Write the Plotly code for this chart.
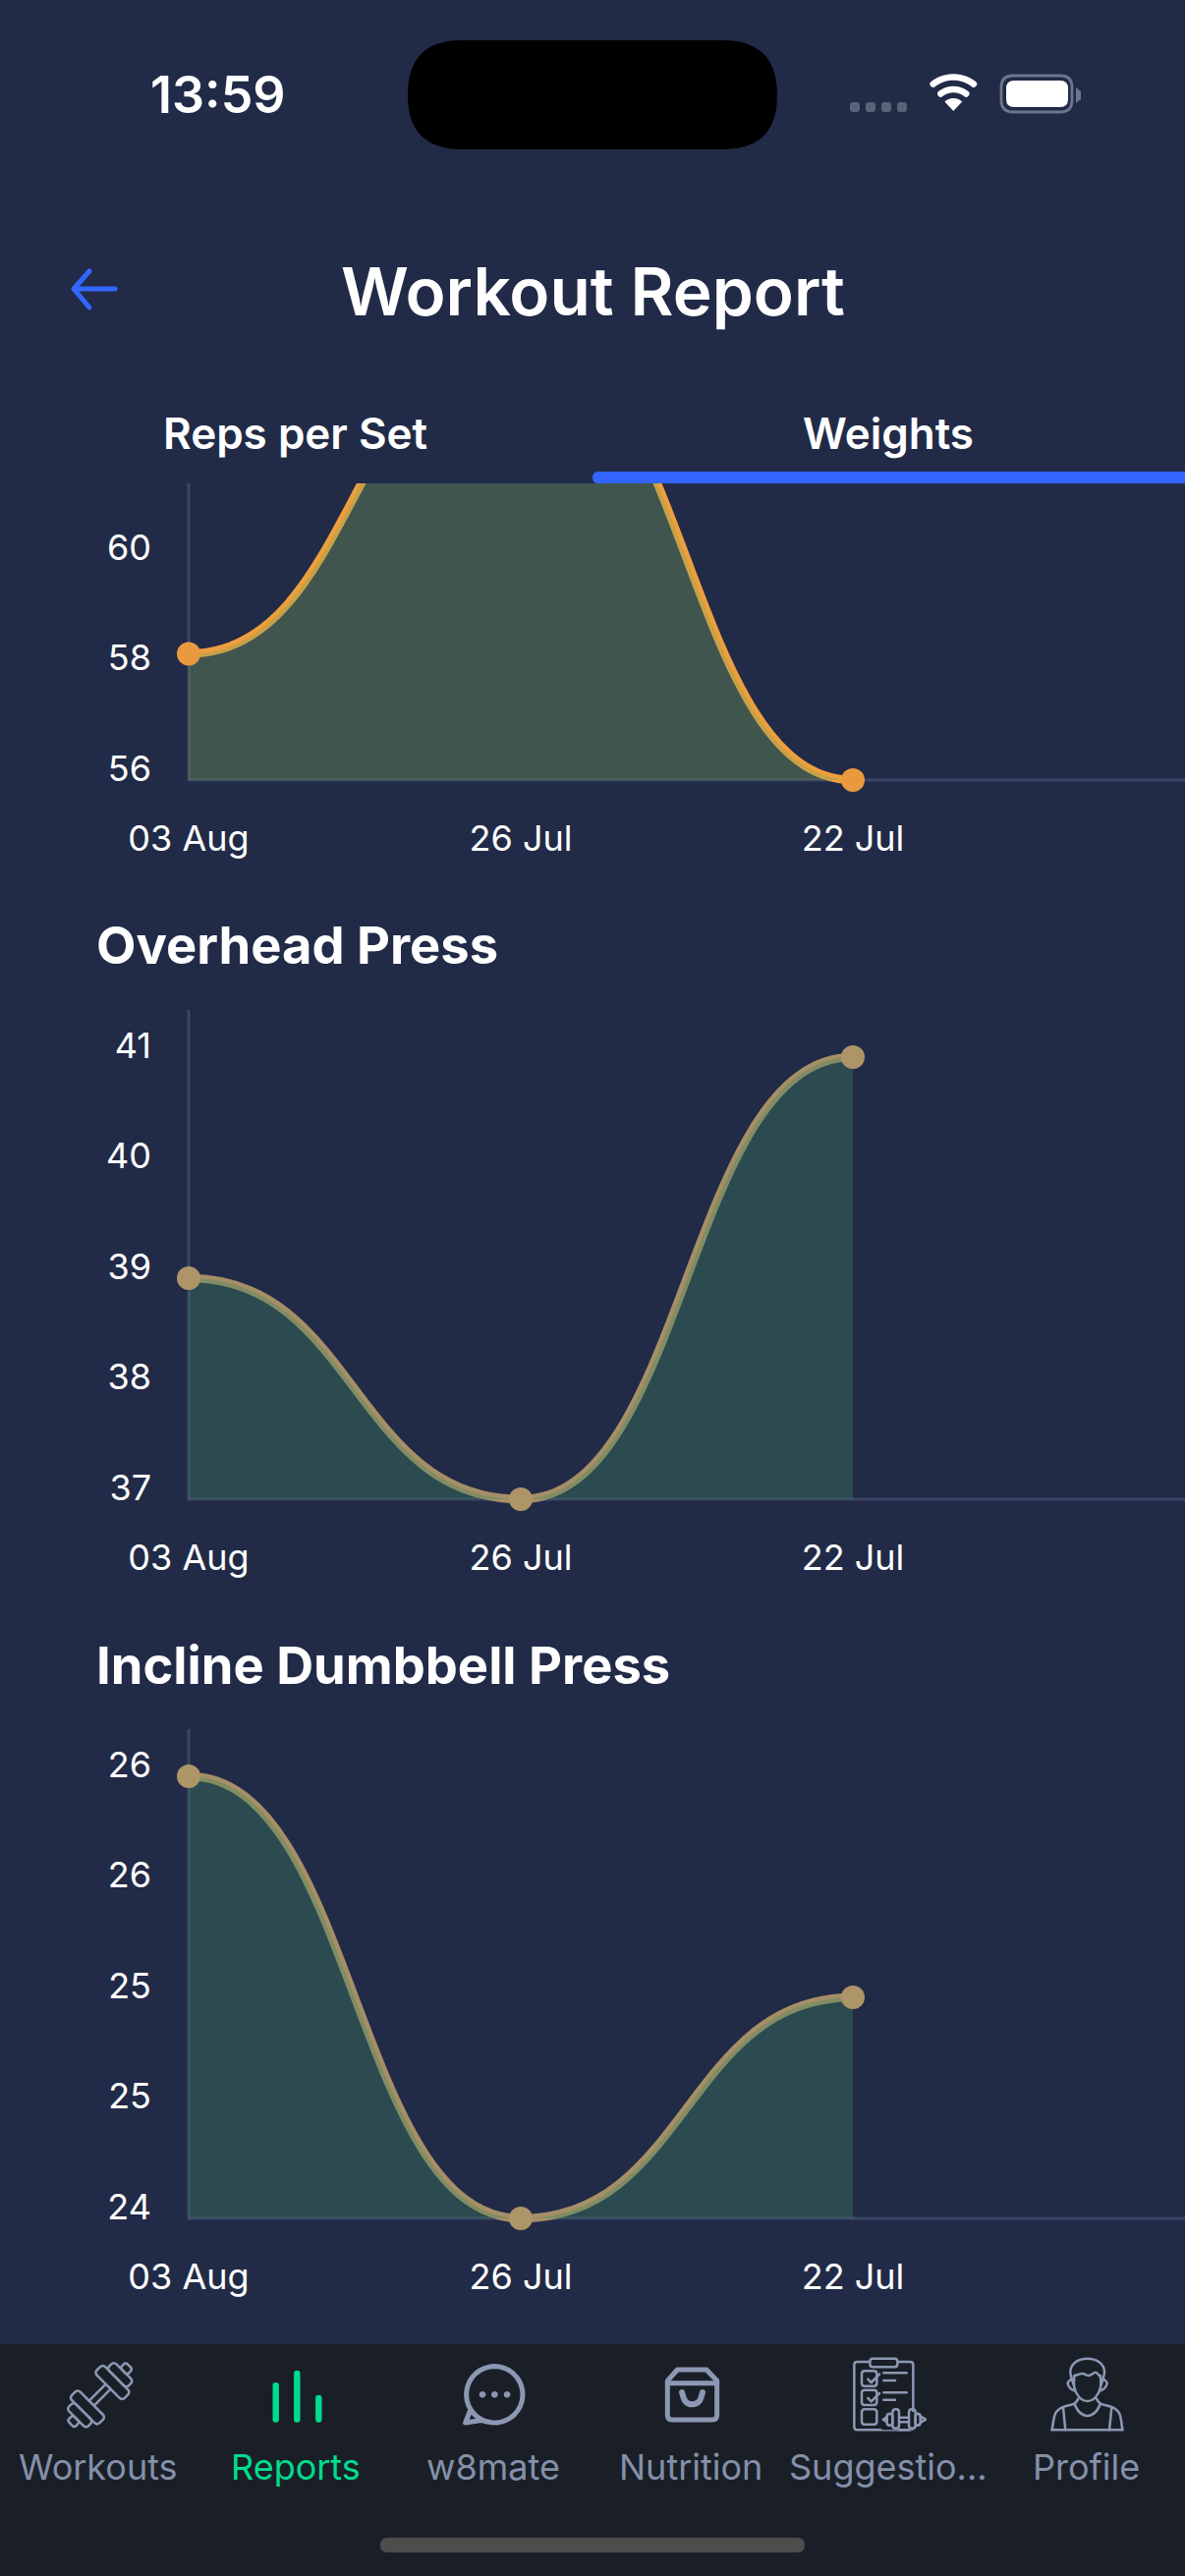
import numpy as np
import plotly.graph_objects as go

# values
dates = ["03 Aug", "26 Jul", "22 Jul"]
bench_weights = [58, 63, 56]
overhead_weights = [39, 37, 41]
incline_weights = [26, 24, 25]
bench_ticks = [56, 57.75, 59.5, 61.25, 63]
overhead_ticks = [37, 38, 39, 40, 41]
incline_ticks = [24, 24.5, 25, 25.5, 26]
bench_tick_labels = ["56", "58", "60", "61", "63"]
overhead_tick_labels = ["37", "38", "39", "40", "41"]
incline_tick_labels = ["24", "25", "25", "26", "26"]
chart_titles = ["Overhead Press", "Incline Dumbbell Press"]
tab_labels = ["Reps per Set", "Weights"]
nav_labels = ["Workouts", "Reports", "w8mate", "Nutrition", "Suggestio...", "Profile"]

W, H = 1206, 2622
BG = "#212B47"
NAV_BG = "#1A1F27"
BLUE = "#3366FF"
GREEN = "#00DC8F"
ICON = "#8C98B3"
NAV_TEXT = "#8490AA"
AXIS = "#3B4664"
FONT = "Inter"

AXIS_X = 192      # px of first category
STEP = 338        # px between categories
SPAN = 450        # px between lowest and highest tick
PLOT_H = 498      # px from baseline to top of the y axis line
PAD = 12          # extra room so the curve is not clipped at the baseline

shapes = []
annotations = []
fig = go.Figure()


def curve_path(xs, ys):
    d = f"M{xs[0]},{ys[0]}"
    for i in range(1, len(xs)):
        mid = (xs[i - 1] + xs[i]) / 2
        d += f" C{mid},{ys[i - 1]} {mid},{ys[i]} {xs[i]},{ys[i]}"
    return d


def add_chart(n, baseline, values, ticks, tick_labels, line_color, fill, dot):
    xa, ya = ("x", "y") if n == 1 else (f"x{n}", f"y{n}")
    lo = min(ticks)
    per_px = (max(ticks) - lo) / SPAN
    xs = list(range(len(values)))
    ymin = lo - PAD * per_px
    ymax = lo + PLOT_H * per_px

    axis_line = dict(color=AXIS, width=3)
    shapes.append(dict(type="line", xref=xa, yref=ya, x0=0, x1=0, y0=lo, y1=ymax, line=axis_line, layer="below"))
    shapes.append(dict(type="line", xref=xa, yref=ya, x0=0, x1=3, y0=lo, y1=lo, line=axis_line, layer="below"))
    shapes.append(dict(type="path", xref=xa, yref=ya, layer="below",
                       line=dict(color=line_color, width=8.5), path=curve_path(xs, values)))
    # translucent area goes over the stroke, that tints its lower half like in the app
    shapes.append(dict(type="path", xref=xa, yref=ya, layer="below", fillcolor=fill, line=dict(width=0),
                       path=curve_path(xs, values) + f" L{xs[-1]},{lo} L{xs[0]},{lo} Z"))

    fig.add_trace(go.Scatter(x=xs, y=values, mode="markers", xaxis=xa, yaxis=ya, cliponaxis=False,
                             marker=dict(size=24, color=dot), showlegend=False, hoverinfo="skip"))

    tick_font = dict(family=FONT, size=36, color="#FFFFFF")
    left = (AXIS_X - PAD) / W
    fig.layout[xa.replace("x", "xaxis")] = dict(
        domain=[left, 1], range=[-PAD / STEP, 3], tickmode="array", tickvals=xs, ticktext=dates,
        tickfont=tick_font, showgrid=False, zeroline=False, showline=False, ticks="",
        ticklabelstandoff=23, anchor=ya, tickangle=0, automargin=False,
    )
    fig.layout[ya.replace("y", "yaxis")] = dict(
        domain=[1 - (baseline + PAD) / H, 1 - (baseline - PLOT_H) / H], range=[ymin, ymax],
        tickmode="array", tickvals=ticks, ticktext=tick_labels, tickfont=tick_font,
        showgrid=False, zeroline=False, showline=False, ticks="", anchor=xa, automargin=False,
        ticklabelstandoff=25, ticklabelshift=-12,
    )


add_chart(1, 794, bench_weights, bench_ticks, bench_tick_labels, "#EE9F3C", "rgba(127,163,94,0.35)", "#EA9A3E")
add_chart(2, 1526, overhead_weights, overhead_ticks, overhead_tick_labels, "#A68F66", "rgba(64,134,97,0.35)", "#AE9568")
add_chart(3, 2258, incline_weights, incline_ticks, incline_tick_labels, "#A68F66", "rgba(64,134,97,0.35)", "#AE9568")

# full page overlay axes, so the app chrome can be placed in screen pixels
fig.update_layout(
    xaxis4=dict(domain=[0, 1], range=[0, W], visible=False, anchor="y4"),
    yaxis4=dict(domain=[0, 1], range=[H, 0], visible=False, anchor="x4"),
)


def text(x, y, label, size, color="#FFFFFF", weight=400, anchor="center"):
    annotations.append(dict(xref="x4", yref="y4", x=x, y=y, text=label, showarrow=False, xanchor=anchor,
                            yanchor="middle", font=dict(family=FONT, size=size, color=color, weight=weight)))


def box(x0, y0, x1, y1, color):
    shapes.append(dict(type="rect", xref="x4", yref="y4", x0=x0, x1=x1, y0=y0, y1=y1,
                       fillcolor=color, line=dict(width=0), layer="above"))


def stroke(d, color=ICON, width=2.5, fill=None):
    s = dict(type="path", xref="x4", yref="y4", path=d, layer="above", line=dict(color=color, width=width))
    if fill:
        s["fillcolor"] = fill
    shapes.append(s)


def fill_only(d, color):
    shapes.append(dict(type="path", xref="x4", yref="y4", path=d, layer="above", fillcolor=color, line=dict(width=0)))


def rrect(x0, y0, x1, y1, r, tf=None):
    pts = [(x0 + r, y0), (x1 - r, y0), (x1, y0), (x1, y0 + r), (x1, y1 - r), (x1, y1), (x1 - r, y1),
           (x0 + r, y1), (x0, y1), (x0, y1 - r), (x0, y0 + r), (x0, y0), (x0 + r, y0)]
    if tf:
        pts = [tf(*p) for p in pts]
    p = [f"{a:.2f},{b:.2f}" for a, b in pts]
    return (f"M{p[0]} L{p[1]} Q{p[2]} {p[3]} L{p[4]} Q{p[5]} {p[6]} L{p[7]} Q{p[8]} {p[9]} "
            f"L{p[10]} Q{p[11]} {p[12]} Z")


def poly(pts, close=False):
    return "M" + " L".join(f"{a:.2f},{b:.2f}" for a, b in pts) + (" Z" if close else "")


def smooth(pts, close=False):
    # catmull-rom through the outline points
    pts = list(pts)
    d = f"M{pts[0][0]:.2f},{pts[0][1]:.2f}"
    n = len(pts)
    for i in range(n if close else n - 1):
        if close:
            p0, p1, p2, p3 = pts[(i - 1) % n], pts[i], pts[(i + 1) % n], pts[(i + 2) % n]
        else:
            p0, p1, p2, p3 = pts[max(i - 1, 0)], pts[i], pts[i + 1], pts[min(i + 2, n - 1)]
        c1 = (p1[0] + (p2[0] - p0[0]) / 6, p1[1] + (p2[1] - p0[1]) / 6)
        c2 = (p2[0] - (p3[0] - p1[0]) / 6, p2[1] - (p3[1] - p1[1]) / 6)
        d += f" C{c1[0]:.2f},{c1[1]:.2f} {c2[0]:.2f},{c2[1]:.2f} {p2[0]:.2f},{p2[1]:.2f}"
    return d + (" Z" if close else "")


def arc(cx, cy, r, a0, a1, n=40):
    t = np.radians(np.linspace(a0, a1, n))
    return list(zip(cx + r * np.cos(t), cy + r * np.sin(t)))


def zoomed(ox, oy):
    return lambda pts: [(ox + a / 3, oy + b / 3) for a, b in pts]


# header cover, hides the top of the first chart when scrolled
box(0, 0, W, 492, BG)
text(222, 96, "13:59", 52, weight=600)
fill_only(rrect(415, 41, 791, 152, 55), "#000000")
for x in [865, 881, 897, 913]:
    fill_only(rrect(x, 104, x + 10, 114, 3), "#5A6278")
stroke(poly(arc(970.3, 112, 33.5, -128, -52)), "#FFFFFF", 6.5)
stroke(poly(arc(970.3, 112, 21, -128, -52)), "#FFFFFF", 6.5)
fill_only(poly([(970.3, 113)] + arc(970.3, 113, 13, -133, -47), close=True), "#FFFFFF")
stroke(rrect(1019, 77, 1091, 114, 12), "#6F768C", 2.8)
fill_only(rrect(1024, 82, 1087, 109, 8), "#FFFFFF")
fill_only(poly([(1095, 89), (1100, 93), (1100, 101), (1095, 105)], close=True), "#6F768C")

stroke("M75,294 L117,294 M91,276 L75,294 L91,313", BLUE, 5)
text(603, 296, "Workout Report", 67.5, weight=600)
text(300, 441, tab_labels[0], 44, weight=600)
text(904, 441, tab_labels[1], 44, weight=600)
fill_only(rrect(603, 480, W + 20, 492, 6), BLUE)

text(96, 962, chart_titles[0], 52.5, weight=700, anchor="left")
text(96, 1695, chart_titles[1], 52.5, weight=700, anchor="left")

# bottom navigation
box(0, 2386, W, H, NAV_BG)
nav_x = [100, 301, 502, 703, 904, 1105]
for x, label in zip(nav_x, nav_labels):
    text(x, 2511, label, 36, GREEN if label == "Reports" else NAV_TEXT)
fill_only(rrect(387, 2583, 819, 2598, 7.5), "#4D4D4D")

# dumbbell, local coords along the rotated bar
c45 = np.sqrt(0.5)
bell = lambda u, v: (101.7 + (u + v) * c45, 2437.7 + (v - u) * c45)
for sign in [1, -1]:
    for u0, u1, hv, r in [(12, 24, 20, 4), (24, 34, 14, 4), (34, 42, 5, 3)]:
        a, b = sorted([sign * u0, sign * u1])
        stroke(rrect(a, -hv, b, hv, r, bell))
stroke(poly([bell(-12, -3.5), bell(12, -3.5)]) + " " + poly([bell(-12, 3.5), bell(12, 3.5)]))

# reports bars
for x, top in [(280.7, 2425), (302.3, 2412.7), (324.3, 2437.7)]:
    fill_only(rrect(x - 3.2, top, x + 3.2, 2465.7, 3.2), GREEN)

# chat bubble
z5 = zoomed(420, 2390)
bubble = arc(503.3, 2437.3, 28.7, 105, 360 + 148) + [(473.6, 2466), (490, 2463.5)]
stroke(poly(bubble, close=True), ICON, 5)
for x in [213, 250, 288]:
    cx, cy = z5([(x, 142)])[0]
    fill_only(poly(arc(cx, cy, 3.3, 0, 360, 20), close=True), ICON)

# shopping bag
bag = z5([(778, 100), (778, 205), (778, 219), (792, 219), (915, 219), (929, 219), (929, 205), (929, 100), (897, 66), (808, 66)])
stroke(f"M{bag[0][0]:.2f},{bag[0][1]:.2f} L{bag[1][0]:.2f},{bag[1][1]:.2f} "
       f"Q{bag[2][0]:.2f},{bag[2][1]:.2f} {bag[3][0]:.2f},{bag[3][1]:.2f} L{bag[4][0]:.2f},{bag[4][1]:.2f} "
       f"Q{bag[5][0]:.2f},{bag[5][1]:.2f} {bag[6][0]:.2f},{bag[6][1]:.2f} L{bag[7][0]:.2f},{bag[7][1]:.2f} "
       f"L{bag[8][0]:.2f},{bag[8][1]:.2f} L{bag[9][0]:.2f},{bag[9][1]:.2f} Z", ICON, 5)
stroke(poly(z5([(778, 107), (929, 107)])), ICON, 5)
stroke(smooth(z5([(822, 135), (832, 162), (853, 172), (875, 162), (885, 135)])), ICON, 6)

# clipboard with dumbbell
z6 = zoomed(800, 2390)
stroke(rrect(*z6([(208, 42)])[0], *z6([(388, 250)])[0], 3))
fill_only(rrect(*z6([(256, 32)])[0], *z6([(340, 58)])[0], 3), NAV_BG)
stroke(rrect(*z6([(256, 32)])[0], *z6([(340, 58)])[0], 3))
for top in [70, 128, 187]:
    stroke(rrect(*z6([(231, top)])[0], *z6([(277, top + 46)])[0], 3))
for top, length in [(76, 368), (99, 333), (136, 368), (158, 333)]:
    stroke(poly(z6([(298, top), (length, top)])))
for top in [70, 128]:
    stroke(poly(z6([(250, top + 25), (260, top + 35), (285, top + 10)])))
fill_only(rrect(*z6([(290, 195)])[0], *z6([(428, 250)])[0], 2), NAV_BG)
stroke(rrect(*z6([(325, 187)])[0], *z6([(345, 245)])[0], 3))
stroke(rrect(*z6([(375, 187)])[0], *z6([(395, 245)])[0], 3))
stroke(rrect(*z6([(308, 200)])[0], *z6([(325, 236)])[0], 3))
stroke(rrect(*z6([(395, 200)])[0], *z6([(410, 236)])[0], 3))
stroke(poly(z6([(345, 212), (375, 212)])) + " " + poly(z6([(345, 226), (375, 226)])))
stroke(poly(z6([(296, 218), (308, 210), (308, 226)]), close=True))
stroke(poly(z6([(410, 208), (426, 218), (410, 228)])))
stroke(poly(z6([(345, 250), (375, 250)])))

# person
stroke(smooth(z6([(878, 112), (868, 70), (885, 42), (920, 32), (955, 42), (972, 70), (962, 112)])))
stroke(smooth(z6([(882, 84), (905, 78), (925, 84), (945, 74), (958, 86)])))
stroke(smooth(z6([(880, 84), (880, 120), (895, 150), (920, 162), (945, 150), (960, 120), (960, 84)])))
stroke(smooth(z6([(870, 95), (860, 107), (868, 123), (880, 130)])))
stroke(smooth(z6([(970, 95), (980, 107), (972, 123), (960, 130)])))
stroke(poly(z6([(812, 250), (1027, 250)])))
stroke(smooth(z6([(892, 155), (880, 170), (845, 180), (822, 200), (812, 250)])))
stroke(smooth(z6([(948, 155), (960, 170), (995, 180), (1018, 200), (1027, 250)])))
stroke(smooth(z6([(880, 170), (895, 195), (920, 207), (945, 195), (960, 170)])))
stroke(poly(z6([(846, 182), (853, 250)])) + " " + poly(z6([(994, 182), (987, 250)])))

fig.update_layout(
    width=W, height=H, margin=dict(l=0, r=0, t=0, b=0, autoexpand=False), autosize=False,
    paper_bgcolor=BG, plot_bgcolor="rgba(0,0,0,0)", showlegend=False,
    shapes=shapes, annotations=annotations, hovermode=False,
)

page_fix = """
document.body.style.margin = '0';
document.body.style.overflow = 'hidden';
document.querySelectorAll('.shapelayer path').forEach(function (p) {
    p.style.strokeLinecap = 'round';
    p.style.strokeLinejoin = 'round';
});
"""
fig.write_html("out.html", post_script=page_fix, config=dict(displayModeBar=False))
